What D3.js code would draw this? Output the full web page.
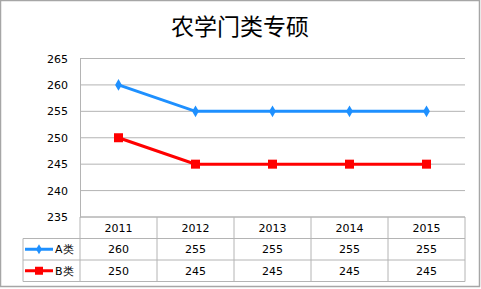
<!DOCTYPE html>
<html>
<head>
<meta charset="utf-8">
<script src="https://cdn.jsdelivr.net/npm/d3@7"></script>
<style>
  body { margin: 0; background: #fff; }
  svg { display: block; }
</style>
</head>
<body>
<div id="chart"></div>
<script>
// Chart data
var title = "农学门类专硕";
var years = ["2011", "2012", "2013", "2014", "2015"];
var seriesNames = ["A类", "B类"];
var seriesA = [260, 255, 255, 255, 255];
var seriesB = [250, 245, 245, 245, 245];
var yTicks = [235, 240, 245, 250, 255, 260, 265];

var W = 481, H = 289;
var plot = { left: 80, right: 465, top: 58.5, bottom: 217 };
var rowH = 21.5;
var legendLeft = 23;
var colors = ["#1E90FF", "#FF0000"];
var numFont = "'DejaVu Sans', Verdana, sans-serif";

var svg = d3.select("#chart").append("svg")
    .attr("width", W)
    .attr("height", H);

// Outer frame
svg.append("rect")
    .attr("x", 0.5).attr("y", 0.5)
    .attr("width", W - 2).attr("height", H - 3)
    .attr("fill", "#fff")
    .attr("stroke", "#a6a6a6")
    .attr("stroke-width", 1.5);

// Title
svg.append("text")
    .attr("x", 240)
    .attr("y", 35)
    .attr("text-anchor", "middle")
    .style("font-family", "'Noto Sans CJK SC', sans-serif")
    .style("font-size", "23px")
    .text(title);

// Scales
var x = d3.scaleBand().domain(years).range([plot.left, plot.right]);
var y = d3.scaleLinear().domain([235, 265]).range([plot.bottom, plot.top]);

// Gridlines
svg.append("g")
    .selectAll("line")
    .data(yTicks)
    .enter().append("line")
    .attr("x1", plot.left).attr("x2", plot.right)
    .attr("y1", function (d) { return y(d); })
    .attr("y2", function (d) { return y(d); })
    .attr("stroke", "#b4b4b4")
    .attr("stroke-width", 1);

// Y axis
var yAxis = svg.append("g")
    .attr("transform", "translate(" + plot.left + ",0)")
    .call(d3.axisLeft(y).tickValues(yTicks).tickSize(0).tickPadding(12));
yAxis.select(".domain").attr("stroke", "#b4b4b4");
yAxis.selectAll("text")
    .style("font-family", numFont)
    .style("font-size", "11px")
    .attr("fill", "#000");

// Lines
var line = d3.line()
    .x(function (d, i) { return x(years[i]) + x.bandwidth() / 2; })
    .y(function (d) { return y(d); });

[seriesA, seriesB].forEach(function (s, k) {
    svg.append("path")
        .datum(s)
        .attr("fill", "none")
        .attr("stroke", colors[k])
        .attr("stroke-width", 3)
        .attr("d", line);
});

// Markers
svg.selectAll(".ptA")
    .data(seriesA)
    .enter().append("path")
    .attr("class", "ptA")
    .attr("d", d3.symbol().type(d3.symbolDiamond).size(40))
    .attr("transform", function (d, i) {
        return "translate(" + (x(years[i]) + x.bandwidth() / 2) + "," + y(d) + ")";
    })
    .attr("fill", colors[0]);

svg.selectAll(".ptB")
    .data(seriesB)
    .enter().append("rect")
    .attr("class", "ptB")
    .attr("x", function (d, i) { return x(years[i]) + x.bandwidth() / 2 - 4.5; })
    .attr("y", function (d) { return y(d) - 4.5; })
    .attr("width", 9).attr("height", 9)
    .attr("fill", colors[1]);

// Data table
var table = svg.append("g");
var gridColor = "#b4b4b4";
var rowTops = [plot.bottom, plot.bottom + rowH, plot.bottom + 2 * rowH, plot.bottom + 3 * rowH];

// horizontal lines
table.append("line")
    .attr("x1", plot.left).attr("x2", plot.right)
    .attr("y1", rowTops[0]).attr("y2", rowTops[0])
    .attr("stroke", gridColor);
[1, 2, 3].forEach(function (r) {
    table.append("line")
        .attr("x1", legendLeft).attr("x2", plot.right)
        .attr("y1", rowTops[r]).attr("y2", rowTops[r])
        .attr("stroke", gridColor);
});

// vertical lines
var vx = years.map(function (d) { return x(d); }).concat([plot.right]);
vx.forEach(function (vv) {
    table.append("line")
        .attr("x1", vv).attr("x2", vv)
        .attr("y1", plot.bottom).attr("y2", rowTops[3])
        .attr("stroke", gridColor);
});
table.append("line")
    .attr("x1", legendLeft).attr("x2", legendLeft)
    .attr("y1", rowTops[1]).attr("y2", rowTops[3])
    .attr("stroke", gridColor);

// header years
table.selectAll(".yr")
    .data(years)
    .enter().append("text")
    .attr("x", function (d) { return x(d) + x.bandwidth() / 2; })
    .attr("y", rowTops[0] + rowH / 2 + 4)
    .attr("text-anchor", "middle")
    .style("font-family", numFont)
    .style("font-size", "11px")
    .text(function (d) { return d; });

// value rows
[seriesA, seriesB].forEach(function (s, k) {
    var ry = rowTops[k + 1] + rowH / 2;
    table.selectAll(".v" + k)
        .data(s)
        .enter().append("text")
        .attr("x", function (d, i) { return x(years[i]) + x.bandwidth() / 2; })
        .attr("y", ry + 4)
        .attr("text-anchor", "middle")
        .style("font-family", numFont)
        .style("font-size", "11px")
        .text(function (d) { return d; });

    // legend key
    table.append("line")
        .attr("x1", 25).attr("x2", 53)
        .attr("y1", ry).attr("y2", ry)
        .attr("stroke", colors[k])
        .attr("stroke-width", 3);
    if (k === 0) {
        table.append("path")
            .attr("d", d3.symbol().type(d3.symbolDiamond).size(30))
            .attr("transform", "translate(39," + ry + ")")
            .attr("fill", colors[k]);
    } else {
        table.append("rect")
            .attr("x", 35).attr("y", ry - 4)
            .attr("width", 8).attr("height", 8)
            .attr("fill", colors[k]);
    }
    table.append("text")
        .attr("x", 55)
        .attr("y", ry + 4)
        .style("font-family", numFont)
        .style("font-size", "11px")
        .text(seriesNames[k]);
});
</script>
</body>
</html>
